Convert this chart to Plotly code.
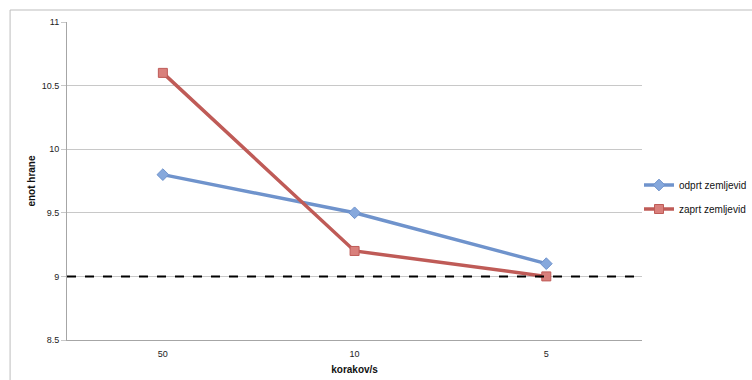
import plotly.graph_objects as go

categories = ["50", "10", "5"]
odprt = [9.8, 9.5, 9.1]
zaprt = [10.6, 9.2, 9.0]
reference_level = 9.0
y_ticks = [8.5, 9, 9.5, 10, 10.5, 11]
y_ticklabels = ["8.5", "9", "9.5", "10", "10.5", "11"]

PW = 752 - 67  # paper width with r=0
fig = go.Figure()
fig.add_trace(go.Scatter(
    x=categories, y=odprt, name="odprt zemljevid", mode="lines+markers",
    legendgroup="a",
    line=dict(color="#6f93cc", width=3.5),
    marker=dict(symbol="diamond", size=9, color="#86a8dc", line=dict(color="#6f93cc", width=1)),
))
fig.add_trace(go.Scatter(
    x=categories, y=zaprt, name="zaprt zemljevid", mode="lines+markers",
    legendgroup="b",
    line=dict(color="#bf5b57", width=3.5),
    marker=dict(symbol="square", size=9, color="#d9807c", line=dict(color="#bf5b57", width=1)),
))

fig.add_shape(type="line", xref="x domain", yref="y", x0=0, x1=1,
              y0=reference_level, y1=reference_level,
              line=dict(color="black", width=2, dash="dash"))
# outer chart border
fig.add_shape(type="rect", xref="paper", yref="paper",
              x0=-57/PW, x1=1.5, y0=-0.5, y1=(340-10)/318,
              line=dict(color="#bdbdbd", width=1), fillcolor="rgba(0,0,0,0)", layer="below")

fig.update_layout(
    width=752, height=380,
    margin=dict(l=67, r=0, t=22, b=40),
    paper_bgcolor="white", plot_bgcolor="white",
    font=dict(family="Liberation Sans, Arial, sans-serif", size=9, color="#222"),
    showlegend=True,
    legend=dict(x=(640-67)/PW, y=(340-197)/318, xanchor="left", yanchor="middle",
                bgcolor="rgba(0,0,0,0)", font=dict(size=10, color="#111"),
                tracegroupgap=5),
    xaxis=dict(
        domain=[0, 576/PW],
        type="category", range=[-0.5, 2.5], showgrid=False,
        showline=True, linecolor="#a6a6a6", linewidth=1,
        ticks="outside", ticklen=5, tickcolor="rgba(0,0,0,0)",
        title=dict(text="<b>korakov/s</b>", font=dict(size=10, color="#111"), standoff=8),
        tickfont=dict(size=9, color="#222"),
    ),
    yaxis=dict(
        range=[8.5, 11], tickvals=y_ticks, ticktext=y_ticklabels,
        showgrid=True, gridcolor="#c8c8c8", gridwidth=1,
        showline=True, linecolor="#a6a6a6", linewidth=1,
        ticks="outside", ticklen=5, tickcolor="#c8c8c8",
        title=dict(text="<b>enot hrane</b>", font=dict(size=10, color="#111"), standoff=4),
        tickfont=dict(size=9, color="#222"), zeroline=False,
    ),
)

fig.write_html("out.html")
